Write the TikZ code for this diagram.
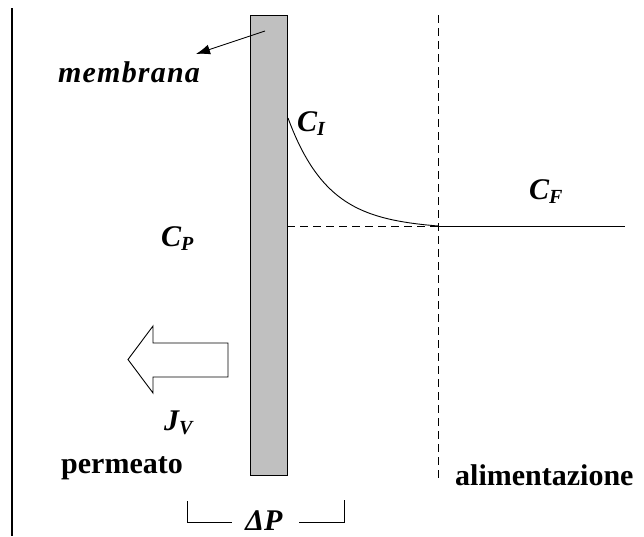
\documentclass[tikz,border=0pt]{standalone}
\usepackage{fontspec}
\setmainfont{Liberation Serif}
\usetikzlibrary{arrows.meta}
\definecolor{membgray}{RGB}{192,192,192}
\begin{document}
\begin{tikzpicture}[x=1pt,y=-1pt,
  lbl/.style={inner sep=0pt,font=\fontsize{30}{32}\selectfont\bfseries},
  ilbl/.style={inner sep=0pt,font=\fontsize{30}{32}\selectfont\bfseries\itshape},
  thin line/.style={line width=0.9pt},
  dashline/.style={line width=0.9pt,dash pattern=on 8pt off 5pt}]
\useasboundingbox (0,0) rectangle (644,536);
% left border line
\coordinate (lt) at (12,8);
\coordinate (lb) at (12,536);
\draw[line width=1.2pt] (lt) -- (lb);
% membrane
\node[draw,thin line,fill=membgray,minimum width=37pt,minimum height=460pt,inner sep=0pt] (memb) at (268.5,245) {};
% feed dashed boundary
\coordinate (ft) at (438,15);
\coordinate (fb) at (438,480);
\draw[dashline] (ft) -- (fb);
% dashed horizontal and concentration line
\coordinate (cm) at (287,226);
\coordinate (cb) at (438,226);
\coordinate (ce) at (625,226);
\draw[dashline] (cm) -- (cb);
\draw[thin line] (cb) -- (ce);
\draw[thin line] plot[domain=288:438,samples=80,smooth] (\x,{226-108*exp(-(\x-288)/40)+2.5*(\x-288)/150});
% labels
\node[ilbl,anchor=base west] (mlabel) at (58,82) {\addfontfeature{LetterSpace=4}membrana};
\coordinate (ma) at (265,31);
\draw[thin line,-{Latex[length=14pt,width=10pt]}] (ma) -- (196,54);
\node[ilbl,anchor=base west] (ci) at (297,131) {C\textsubscript{\fontsize{20}{20}\selectfont I}};
\node[ilbl,anchor=base west] (cf) at (529,199) {C\textsubscript{\fontsize{20}{20}\selectfont F}};
\node[ilbl,anchor=base west] (cp) at (161,246) {C\textsubscript{\fontsize{20}{20}\selectfont P}};
\node[ilbl,anchor=base west] (jv) at (164,430) {J\textsubscript{\fontsize{20}{20}\selectfont V}};
\node[lbl,anchor=base west] (perm) at (61,473) {permeato};
\node[lbl,anchor=base west] (alim) at (455,485) {alimentazione};
% hollow flux arrow
\draw[thin line] (228,343) -- (153,343) -- (153,326) -- (128,359.5) -- (153,393) -- (153,377) -- (228,377) -- cycle;
% delta P bracket
\node[ilbl,anchor=base] (dp) at (264,530) {ΔP};
\coordinate (bl1) at (187,501);
\coordinate (bl2) at (187,522);
\coordinate (bl3) at (232,522);
\coordinate (br1) at (299,522);
\coordinate (br2) at (344,522);
\coordinate (br3) at (344,500);
\draw[thin line] (bl1) -- (bl2) -- (bl3);
\draw[thin line] (br1) -- (br2) -- (br3);
\end{tikzpicture}
\end{document}
